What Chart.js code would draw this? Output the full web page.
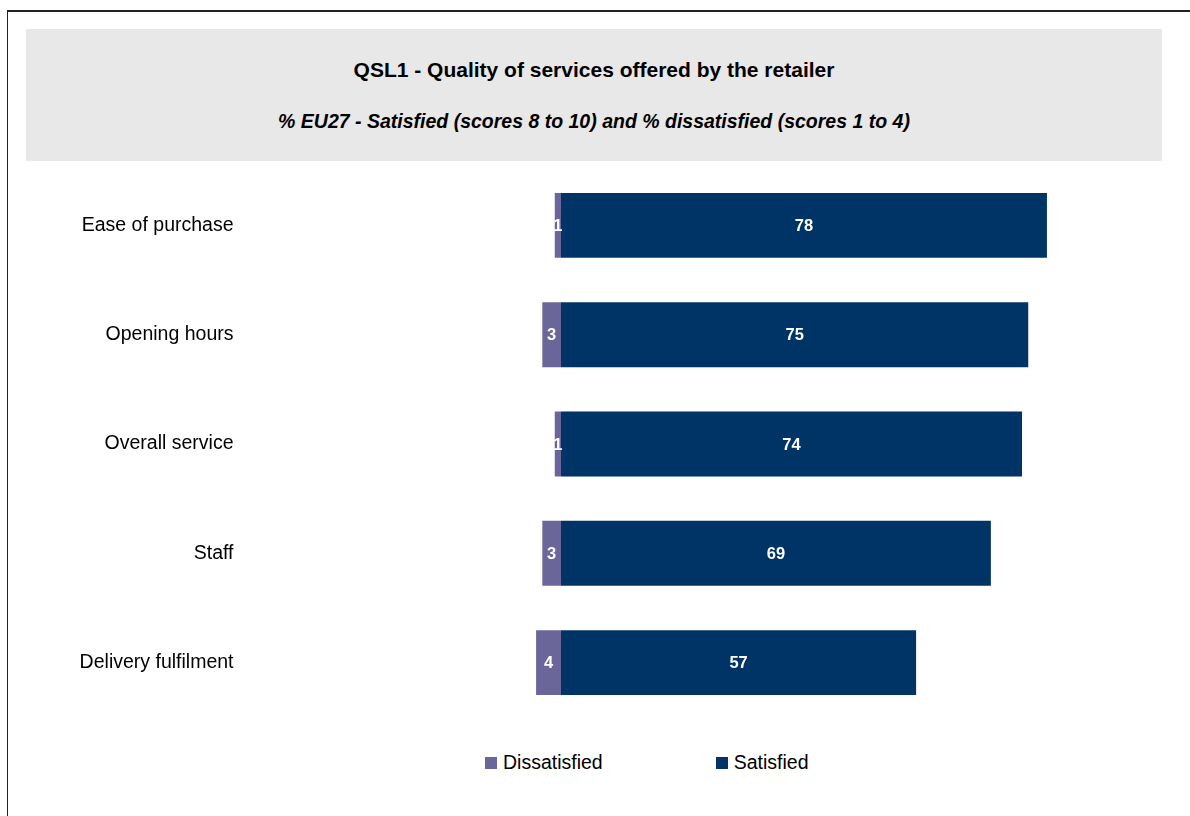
<!DOCTYPE html>
<html>
<head>
<meta charset="utf-8">
<script src="https://cdn.jsdelivr.net/npm/chart.js@4"></script>
<style>
    body { margin: 0; background: #fff; font-family: Arial, "Liberation Sans", sans-serif; }
    .frame { position: absolute; left: 7px; top: 10px; width: 1300px; height: 900px; border-top: 2px solid #222; border-left: 1px solid #222; }
    .header { position: absolute; left: 26px; top: 29px; width: 1136px; height: 132px; background: #e8e8e8; text-align: center; color: #000; }
    .header .title { position: absolute; left: 0; right: 0; top: 29px; font-weight: bold; font-size: 21px; }
    .header .subtitle { position: absolute; left: 0; right: 0; top: 81px; font-weight: bold; font-style: italic; font-size: 19.5px; }
    .chart-box { position: absolute; left: 0; top: 142.5px; width: 1190px; height: 602px; }
    .legend { position: absolute; left: 485px; top: 751px; display: flex; gap: 113px; font-size: 19.5px; color: #000; }
    .legend-item { display: flex; align-items: center; }
    .legend-item span.box { display: inline-block; width: 12px; height: 12px; margin-right: 6px; }
</style>
</head>
<body>
<div class="frame"></div>
<div class="header">
    <div class="title">QSL1 - Quality of services offered by the retailer</div>
    <div class="subtitle">% EU27 - Satisfied (scores 8 to 10) and % dissatisfied (scores 1 to 4)</div>
</div>
<div class="chart-box"><canvas id="qsl1-chart"></canvas></div>
<div class="legend" id="qsl1-legend"></div>

<script>
const categories = ["Ease of purchase", "Opening hours", "Overall service", "Staff", "Delivery fulfilment"];
const dissatisfied = [1, 3, 1, 3, 4];
const satisfied = [78, 75, 74, 69, 57];
const seriesLabels = ["Dissatisfied", "Satisfied"];
const seriesColors = ['#6a6699', '#003366'];

// white value labels centred in each bar segment
const barValueLabels = {
    id: 'barValueLabels',
    afterDatasetsDraw(chart) {
        const ctx = chart.ctx;
        ctx.save();
        ctx.fillStyle = '#fff';
        ctx.font = 'bold 16.5px Arial, "Liberation Sans", sans-serif';
        ctx.textAlign = 'center';
        ctx.textBaseline = 'middle';
        chart.data.datasets.forEach((ds, i) => {
            chart.getDatasetMeta(i).data.forEach((bar, j) => {
                const v = Math.abs(ds.data[j]);
                ctx.fillText(String(v), (bar.x + bar.base) / 2, bar.y + 1);
            });
        });
        ctx.restore();
    }
};

const chartCtx = document.getElementById('qsl1-chart').getContext('2d');
const qsl1Chart = new Chart(chartCtx, {
    type: 'bar',
    data: {
        labels: categories,
        datasets: [
            {
                label: seriesLabels[0],
                data: dissatisfied.map(v => -v),
                backgroundColor: seriesColors[0],
                categoryPercentage: 1,
                barPercentage: 0.594,
            },
            {
                label: seriesLabels[1],
                data: satisfied,
                backgroundColor: seriesColors[1],
                categoryPercentage: 1,
                barPercentage: 0.594,
            },
        ],
    },
    options: {
        indexAxis: 'y',
        responsive: true,
        maintainAspectRatio: false,
        animation: false,
        layout: { padding: { right: 6, top: 0, bottom: 0, left: 0 } },
        plugins: {
            legend: { display: false },
            tooltip: { enabled: false },
        },
        scales: {
            x: {
                stacked: true,
                display: false,
                min: -50,
                max: 100,
            },
            y: {
                stacked: true,
                grid: { display: false, drawTicks: false },
                border: { display: false },
                ticks: {
                    color: '#000',
                    padding: 16,
                    font: { family: 'Arial, "Liberation Sans", sans-serif', size: 19.5 },
                },
                afterFit(scale) { scale.width = 249.5; },
            },
        },
    },
    plugins: [barValueLabels],
});

// legend built from the same series
const legendEl = document.getElementById('qsl1-legend');
seriesLabels.forEach((label, i) => {
    const item = document.createElement('div');
    item.className = 'legend-item';
    item.innerHTML = `<span class="box" style="background:${seriesColors[i]}"></span>${label}`;
    legendEl.appendChild(item);
});
</script>
</body>
</html>
